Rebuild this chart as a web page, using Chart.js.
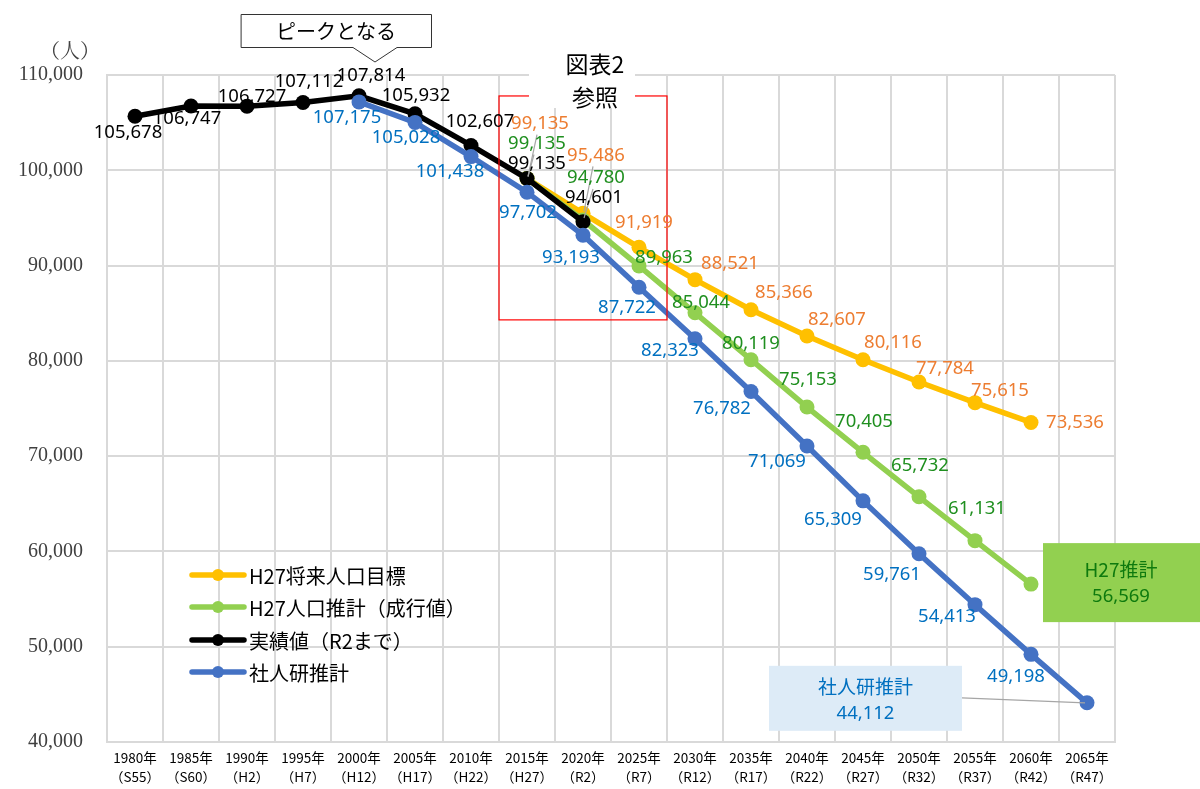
<!DOCTYPE html>
<html>
<head>
<meta charset="utf-8">
<script src="https://cdn.jsdelivr.net/npm/chart.js@4.4.1/dist/chart.umd.min.js"></script>
<style>
html,body{margin:0;padding:0;background:#fff;}
#wrap{width:1200px;height:789px;position:relative;}
</style>
</head>
<body>
<div id="wrap"><canvas id="c" width="1200" height="789"></canvas></div>
<script>
// ---- data ----
const years = ['1980年','1985年','1990年','1995年','2000年','2005年','2010年','2015年','2020年','2025年','2030年','2035年','2040年','2045年','2050年','2055年','2060年','2065年'];
const eras = ['（S55）','（S60）','（H2）','（H7）','（H12）','（H17）','（H22）','（H27）','（R2）','（R7）','（R12）','（R17）','（R22）','（R27）','（R32）','（R37）','（R42）','（R47）'];
const targetH27 = [null,null,null,null,null,null,null,99135,95486,91919,88521,85366,82607,80116,77784,75615,73536,null];
const estimateH27 = [null,null,null,null,null,null,null,99135,94780,89963,85044,80119,75153,70405,65732,61131,56569,null];
const actual = [105678,106747,106727,107112,107814,105932,102607,99135,94601,null,null,null,null,null,null,null,null,null];
const ipss = [null,null,null,null,107175,105028,101438,97702,93193,87722,82323,76782,71069,65309,59761,54413,49198,44112];
const seriesNames = ['H27将来人口目標','H27人口推計（成行値）','実績値（R2まで）','社人研推計'];
const yTicks = {min:40000, max:110000, step:10000};

// ---- label placement (offsets from point, px) ----
const offTarget = [null,null,null,null,null,null,null,[13,-55],[13,-58],[5,-25],[35,-16],[33,-17],[30,-16],[30,-17],[26,-13],[25,-12],[44,0],null];
const offEstimate = [null,null,null,null,null,null,null,[10,-35],[13,-42],[25,-8],[6,-10],[0,-16],[1,-27],[1,-31],[1,-31],[2,-32],null,null];
const offActual = [[-7,17],[-4,13],[5,-9],[6,-21],[12,-20],[1,-18],[9,-24],[10,-15],[11,-24],null,null,null,null,null,null,null,null,null];
const offIpss = [null,null,null,null,[-12,16],[-9,15],[-21,15],[1,21],[-12,23],[-12,20],[-25,12],[-29,17],[-30,16],[-30,19],[-27,21],[-28,12],[-15,22],null];
const leaderTarget = [7,8];
const leaderEstimate = [7,8];

const fmt = v => v.toLocaleString('en-US');
const labelFont = '18.5px "Noto Sans", "Noto Sans CJK JP", sans-serif';
const cjkFont = '"Noto Sans CJK JP", "Noto Sans", sans-serif';

const labelPlugin = {
  id: 'labels',
  afterDatasetsDraw(chart) {
    const ctx = chart.ctx;
    const xs = chart.scales.x, ys = chart.scales.y;
    ctx.save();

    // red reference rectangle
    const rx1 = xs.getPixelForValue(7) - 28, rx2 = xs.getPixelForValue(9) + 28;
    const ry1 = ys.getPixelForValue(107800), ry2 = ys.getPixelForValue(84300);
    ctx.strokeStyle = '#FF0000'; ctx.lineWidth = 1.2;
    ctx.strokeRect(rx1, ry1, rx2 - rx1, ry2 - ry1);

    // white block behind "図表2 参照"
    ctx.fillStyle = '#ffffff';
    ctx.fillRect(529, 44, 106, 64);
    ctx.fillStyle = '#000';
    ctx.font = '23px ' + cjkFont;
    ctx.textAlign = 'center'; ctx.textBaseline = 'middle';
    ctx.fillText('図表2', 595, 64);
    ctx.fillText('参照', 595, 97);

    const groups = [
      {data: targetH27, off: offTarget, color: '#ED7D31', leaders: leaderTarget},
      {data: estimateH27, off: offEstimate, color: '#1F8F1F', leaders: leaderEstimate},
      {data: actual, off: offActual, color: '#000000', leaders: []},
      {data: ipss, off: offIpss, color: '#0070C0', leaders: []}
    ];
    // leader lines
    ctx.strokeStyle = '#A6A6A6'; ctx.lineWidth = 1.2;
    groups.forEach(g => {
      g.leaders.forEach(i => {
        const px = xs.getPixelForValue(i), py = ys.getPixelForValue(g.data[i]);
        const o = g.off[i];
        ctx.beginPath();
        ctx.moveTo(px + o[0] - 3, py + o[1] + 11);
        ctx.lineTo(px + 1, py - 2);
        ctx.stroke();
      });
    });
    ctx.font = labelFont;
    ctx.textAlign = 'center'; ctx.textBaseline = 'middle';
    groups.forEach(g => {
      ctx.fillStyle = g.color;
      g.data.forEach((v, i) => {
        const o = g.off[i];
        if (v == null || !o) return;
        const px = xs.getPixelForValue(i), py = ys.getPixelForValue(v);
        ctx.fillText(fmt(v), px + o[0], py + o[1]);
      });
    });

    // 社人研推計 box (last value)
    const li = ipss.length - 1;
    const bpx = xs.getPixelForValue(li), bpy = ys.getPixelForValue(ipss[li]);
    const bx = bpx - 318, by = bpy - 37, bw = 193, bh = 65;
    ctx.strokeStyle = '#A6A6A6'; ctx.lineWidth = 1.2;
    ctx.beginPath(); ctx.moveTo(bx + bw, by + 32); ctx.lineTo(bpx - 2, bpy); ctx.stroke();
    ctx.fillStyle = '#DDEBF7';
    ctx.fillRect(bx, by, bw, bh);
    ctx.fillStyle = '#0070C0';
    ctx.font = '19px ' + cjkFont;
    ctx.fillText('社人研推計', bx + bw / 2, by + 21);
    ctx.font = labelFont;
    ctx.fillText(fmt(ipss[li]), bx + bw / 2, by + 48);

    // H27推計 box
    const gi = 16;
    const gpx = xs.getPixelForValue(gi), gpy = ys.getPixelForValue(estimateH27[gi]);
    const gx = gpx + 12, gy = gpy - 41, gw = 160, gh = 79;
    ctx.fillStyle = '#92D050';
    ctx.fillRect(gx, gy, gw, gh);
    ctx.fillStyle = '#0E7A0E';
    ctx.font = '19px ' + cjkFont;
    ctx.fillText('H27推計', gx + 78, gy + 27);
    ctx.font = labelFont;
    ctx.fillText(fmt(estimateH27[gi]), gx + 78, gy + 54);

    // legend
    const colors = ['#FFC000', '#92D050', '#000000', '#4472C4'];
    const ly = [575, 607, 640, 672];
    ctx.textAlign = 'left';
    ctx.font = '20px ' + cjkFont;
    seriesNames.forEach((n, i) => {
      ctx.strokeStyle = colors[i]; ctx.lineWidth = 5.5; ctx.lineCap = 'round';
      ctx.beginPath(); ctx.moveTo(192, ly[i]); ctx.lineTo(244, ly[i]); ctx.stroke();
      ctx.fillStyle = colors[i];
      ctx.beginPath(); ctx.arc(218, ly[i], 6, 0, Math.PI * 2); ctx.fill();
      ctx.fillStyle = '#000';
      ctx.fillText(n, 249, ly[i] + 1);
    });

    // (人)
    ctx.font = '20px "Noto Serif CJK JP", "Liberation Serif", serif';
    ctx.textAlign = 'center';
    ctx.fillStyle = '#404040';
    ctx.fillText('（人）', 70, 50);

    // ピークとなる callout
    ctx.strokeStyle = '#333'; ctx.lineWidth = 1;
    ctx.fillStyle = '#fff';
    ctx.beginPath();
    ctx.moveTo(241.5, 14.5); ctx.lineTo(431.5, 14.5); ctx.lineTo(431.5, 47.5);
    ctx.lineTo(397, 47.5); ctx.lineTo(375, 62); ctx.lineTo(353, 47.5);
    ctx.lineTo(241.5, 47.5); ctx.closePath();
    ctx.fill(); ctx.stroke();
    ctx.fillStyle = '#000';
    ctx.font = '20px ' + cjkFont;
    ctx.fillText('ピークとなる', 336, 31);

    ctx.restore();
  }
};

const ds = (label, data, color, order) => ({
  label, data, borderColor: color, backgroundColor: color,
  borderWidth: 5.5, pointRadius: 7.5, pointHoverRadius: 7.5, pointBorderWidth: 0,
  tension: 0, order, spanGaps: false
});

new Chart(document.getElementById('c'), {
  type: 'line',
  data: {
    labels: years.map((y, i) => [y, eras[i]]),
    datasets: [
      ds(seriesNames[0], targetH27, '#FFC000', 4),
      ds(seriesNames[1], estimateH27, '#92D050', 3),
      ds(seriesNames[2], actual, '#000000', 2),
      ds(seriesNames[3], ipss, '#4472C4', 1)
    ]
  },
  options: {
    responsive: false,
    animation: false,
    layout: {padding: {left: 0, right: 85, top: 75, bottom: 0}},
    plugins: {legend: {display: false}, tooltip: {enabled: false}},
    scales: {
      x: {
        offset: true,
        grid: {offset: true, color: '#D9D9D9', lineWidth: 2, drawTicks: false},
        border: {color: '#D9D9D9', width: 2},
        ticks: {color: '#000', font: {family: '"Noto Sans CJK JP", sans-serif', size: 13.5, lineHeight: 1.45}, padding: 6, maxRotation: 0, autoSkip: false},
        afterFit(s) { s.height = 47; }
      },
      y: {
        min: yTicks.min, max: yTicks.max,
        grid: {color: '#D9D9D9', lineWidth: 2, drawTicks: false},
        border: {color: '#D9D9D9', width: 2},
        ticks: {stepSize: yTicks.step, color: '#404040', padding: 24,
          font: {family: '"Liberation Serif", serif', size: 20},
          callback: v => fmt(v)},
        afterFit(s) { s.width = 107; }
      }
    }
  },
  plugins: [labelPlugin]
});
</script>
</body>
</html>
